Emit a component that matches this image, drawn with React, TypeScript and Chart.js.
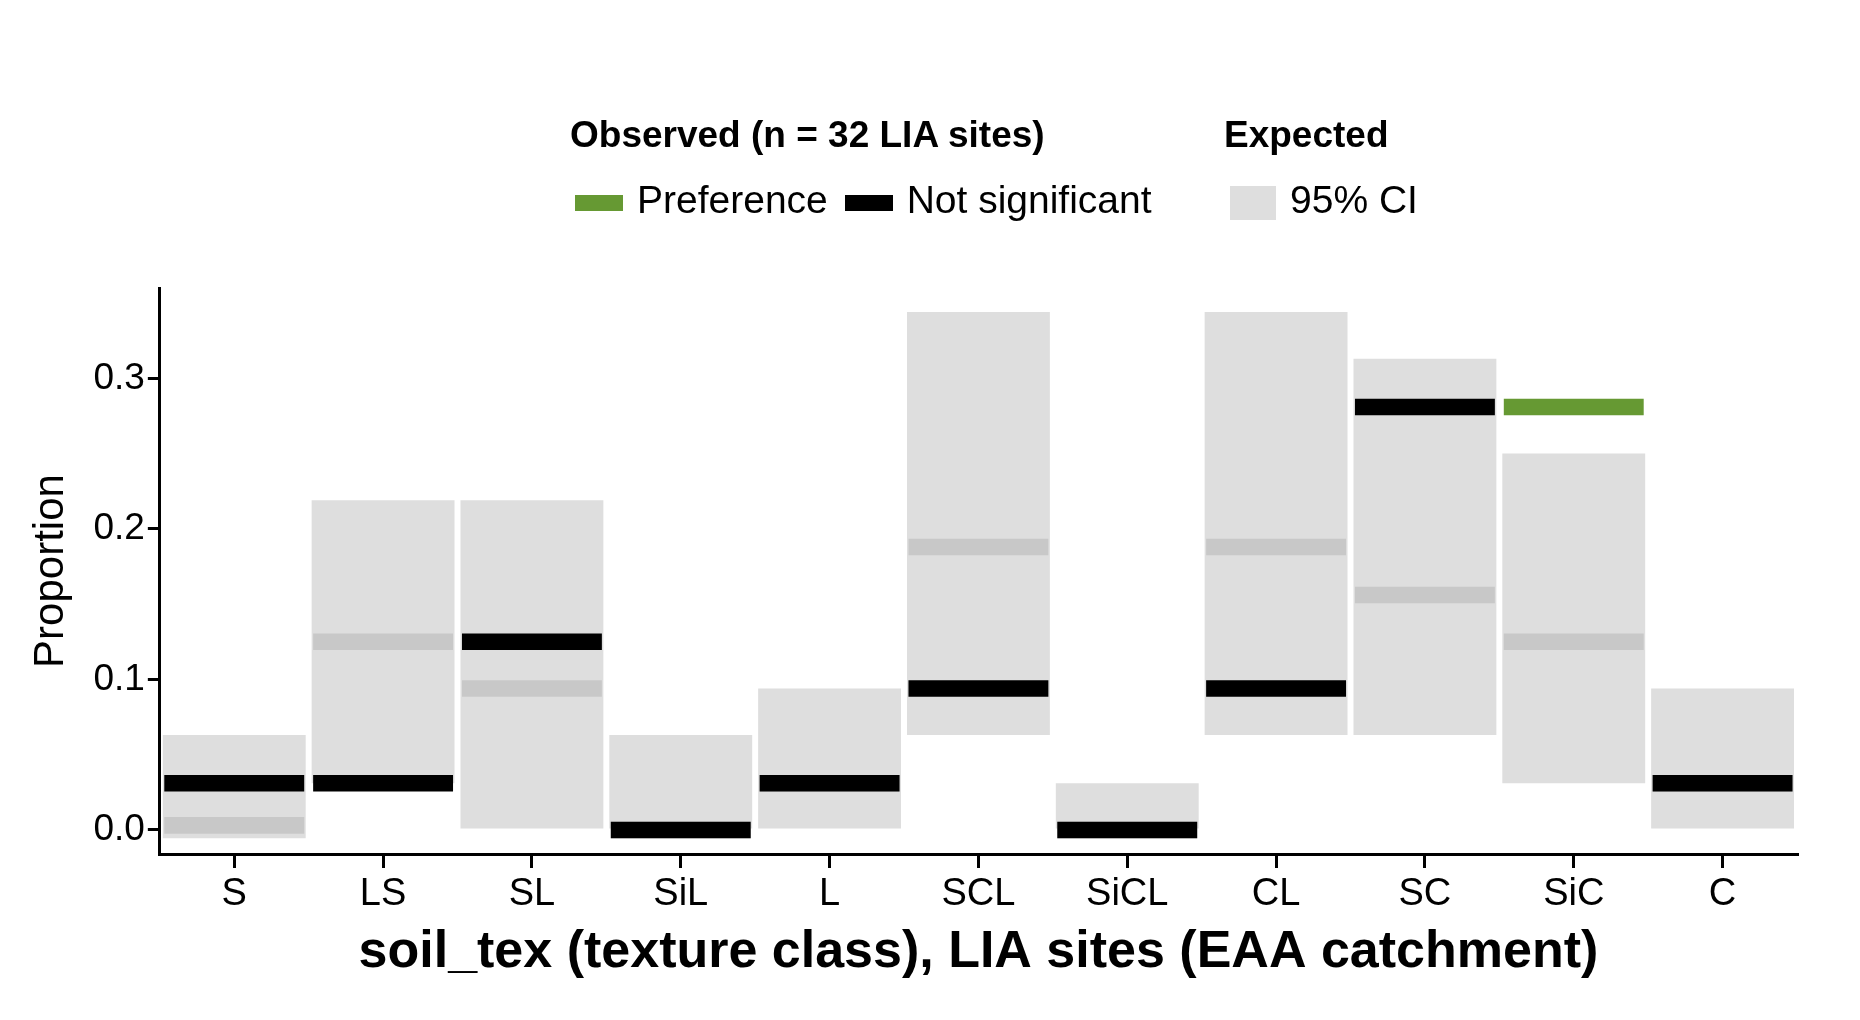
import { useRef, useEffect } from "react";
import { Chart, registerables } from "chart.js";

Chart.register(...registerables);

const categories = ["S", "LS", "SL", "SiL", "L", "SCL", "SiCL", "CL", "SC", "SiC", "C"];
const ciLow = [-0.0055, 0.031, 0, 0, 0, 0.063, 0, 0.063, 0.063, 0.031, 0];
const ciHigh = [0.063, 0.219, 0.219, 0.063, 0.094, 0.344, 0.031, 0.344, 0.313, 0.25, 0.094];
const expected = [0.003, 0.125, 0.094, 0, 0.031, 0.188, 0, 0.188, 0.156, 0.125, 0.031];
const observed = [0.031, 0.031, 0.125, 0, 0.031, 0.094, 0, 0.094, 0.281, 0.281, 0.031];
const preference = [false, false, false, false, false, false, false, false, false, true, false];
const yTicks = [0, 0.1, 0.2, 0.3];

const half = 0.0055;
const font = "Arial, 'Liberation Sans', sans-serif";

export default function App() {
  const canvasRef = useRef<HTMLCanvasElement>(null);

  useEffect(() => {
    const ctx = canvasRef.current?.getContext("2d");
    if (!ctx) return;
    const chart = new Chart(ctx, {
      type: "bar",
      data: {
        labels: categories,
        datasets: [
          {
            label: "Observed",
            data: observed.map((v) => [v - half, v + half]),
            backgroundColor: preference.map((p) => (p ? "#669933" : "#000000")),
            barPercentage: 0.94,
            categoryPercentage: 1,
            grouped: false,
            order: 1,
          },
          {
            label: "Expected",
            data: expected.map((v) => [v - half, v + half]),
            backgroundColor: "#c8c8c8",
            barPercentage: 0.94,
            categoryPercentage: 1,
            grouped: false,
            order: 2,
          },
          {
            label: "95% CI",
            data: ciLow.map((v, i) => [v, ciHigh[i]]),
            backgroundColor: "#dedede",
            barPercentage: 0.96,
            categoryPercentage: 1,
            grouped: false,
            order: 3,
          },
        ],
      },
      options: {
        animation: false,
        responsive: false,
        layout: { padding: { top: 288, right: 63, left: 22, bottom: 32 } },
        plugins: { legend: { display: false }, tooltip: { enabled: false } },
        scales: {
          x: {
            offset: true,
            grid: { offset: false, drawOnChartArea: false, color: "#000", tickLength: 14, lineWidth: 3 },
            border: { color: "#000", width: 3 },
            ticks: { color: "#000", font: { family: font, size: 38 }, padding: 4 },
            title: {
              display: true,
              text: "soil_tex (texture class), LIA sites (EAA catchment)",
              color: "#000",
              font: { family: font, size: 52, weight: "bold" },
              padding: { top: 0 },
            },
          },
          y: {
            min: -0.016,
            max: 0.36,
            afterBuildTicks: (axis) => {
              axis.ticks = yTicks.map((v) => ({ value: v }));
            },
            grid: { drawOnChartArea: false, color: "#000", tickLength: 12, lineWidth: 3 },
            border: { color: "#000", width: 3 },
            ticks: { color: "#000", font: { family: font, size: 37 }, callback: (v) => Number(v).toFixed(1) },
            title: {
              display: true,
              text: "Proportion",
              color: "#000",
              font: { family: font, size: 42 },
              padding: { bottom: 14 },
            },
          },
        },
      },
    });
    return () => chart.destroy();
  }, []);

  const sw = (c: string, w: number, h: number) => (
    <span style={{ display: "inline-block", width: w, height: h, background: c, marginRight: 14, verticalAlign: "middle" }} />
  );

  return (
    <div style={{ position: "fixed", left: 0, top: 0, width: 1860, height: 1020, background: "#fff", fontFamily: font }}>
      <canvas ref={canvasRef} width={1860} height={1020} style={{ position: "absolute", left: 0, top: 0 }} />
      <div style={{ position: "absolute", left: 570, top: 114, fontSize: 37, fontWeight: "bold" }}>Observed (n = 32 LIA sites)</div>
      <div style={{ position: "absolute", left: 575, top: 178, fontSize: 39, whiteSpace: "nowrap" }}>
        {sw("#669933", 48, 16)}Preference{" "}
        <span style={{ marginLeft: 6 }}>{sw("#000000", 48, 16)}</span>Not significant
      </div>
      <div style={{ position: "absolute", left: 1224, top: 114, fontSize: 37, fontWeight: "bold" }}>Expected</div>
      <div style={{ position: "absolute", left: 1230, top: 178, fontSize: 39, whiteSpace: "nowrap" }}>
        {sw("#dedede", 46, 34)}95% CI
      </div>
    </div>
  );
}
